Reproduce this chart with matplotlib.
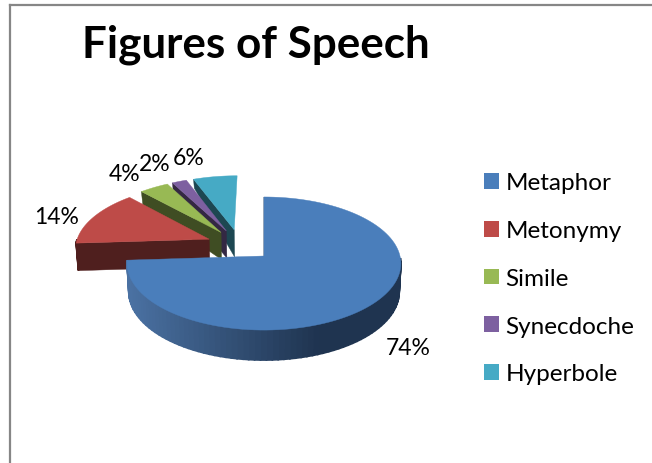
import numpy as np
import matplotlib
matplotlib.use('Agg')
import matplotlib.pyplot as plt
from matplotlib.patches import Patch

plt.rcParams['font.family'] = ['Lato', 'DejaVu Sans']

title = 'Figures of Speech'
categories = ['Metaphor', 'Metonymy', 'Simile', 'Synecdoche', 'Hyperbole']
values = [74, 14, 4, 2, 6]
pct_labels = ['74%', '14%', '4%', '2%', '6%']

colors = ['#4A7EBB', '#BE4B48', '#98B954', '#7D60A0', '#46AAC5']
dark_colors = ['#24405F', '#4F1F1E', '#3F4D23', '#342843', '#1D4752']
label_pos = [(408, 349), (57, 218), (125, 175), (155, 165), (189, 159)]

# projection of the tilted pie, in pixels
CX, CY = 264, 257
SX, SY = 136, 65.7
PERSP = 0.113
EXPLODE = 0.25


def project(X, Y):
	d = 1 + PERSP * Y
	return CX + SX * X / d, CY - SY * Y / d


def project_bottom(X, Y):
	# vertical edges converge, far points look much thinner
	x, y = project(X, Y)
	depth = np.interp(Y, [-1, 0.45, 1.4], [30, 27, 8])
	return CX + (x - CX) * 0.988, y + depth


def blend(c1, c2, t):
	a = np.array(matplotlib.colors.to_rgb(c1))
	b = np.array(matplotlib.colors.to_rgb(c2))
	return tuple(a + (b - a) * t)


fig = plt.figure(figsize=(6.52, 4.64), dpi=100)
ax = fig.add_axes([0, 0, 1, 1])
ax.set_xlim(0, 652)
ax.set_ylim(464, 0)
ax.axis('off')

# chart frame
ax.plot([10, 10], [464, 6], color='#868686', lw=1.6)
ax.plot([10, 652], [6, 6], color='#868686', lw=1.6)

# slices go clockwise from 12 o'clock, angles measured clockwise
edges = np.radians(np.concatenate([[0], np.cumsum(values)]) * 3.6)
mids = (edges[:-1] + edges[1:]) / 2
off_x = EXPLODE * (np.sin(mids) - np.sin(mids[0]))
off_y = EXPLODE * (np.cos(mids) - np.cos(mids[0]))

# far slices first so that the big one ends up in front
for i in [4, 3, 2, 1, 0]:
	t = np.linspace(edges[i], edges[i + 1], 120)
	X = off_x[i] + np.sin(t)
	Y = off_y[i] + np.cos(t)
	ax_, ay_ = off_x[i], off_y[i]

	# cut face on the starting edge
	top = [project(ax_, ay_), project(X[0], Y[0])]
	bot = [project_bottom(X[0], Y[0]), project_bottom(ax_, ay_)]
	face = np.array(top + bot)
	ax.fill(face[:, 0], face[:, 1], color=dark_colors[i], lw=0.3)

	# outer rim, only the part facing the viewer
	front = np.cos(t) <= 0
	tx, ty = project(X, Y)
	bx, by = project_bottom(X, Y)
	idx = np.where(front)[0]
	for j in idx[:-1]:
		if i == 0:
			s = np.clip((tx[j] - 130) / 190, 0, 1)
			col = blend('#4A71A2', '#1F3450', s)
		else:
			col = dark_colors[i]
		ax.fill([tx[j], tx[j + 1], bx[j + 1], bx[j]],
				[ty[j], ty[j + 1], by[j + 1], by[j]], color=col, lw=1.2)

	# top surface
	ax.fill(np.r_[project(ax_, ay_)[0], tx], np.r_[project(ax_, ay_)[1], ty], color=colors[i], lw=0.3)

for txt, (x, y) in zip(pct_labels, label_pos):
	ax.text(x, y, txt, fontsize=16.5, color='#000000', ha='center', va='center')

ax.text(256, 45, title, fontsize=31.7, fontweight='bold', color='#000000', ha='center', va='center')

handles = [Patch(facecolor=c, edgecolor='none') for c in colors]
fig.legend(handles, categories, loc='upper left', bbox_to_anchor=(484 / 652, 1 - 173.5 / 464),
		fontsize=17.5, frameon=False, handlelength=0.62, handleheight=0.62,
		handletextpad=0.26, labelspacing=1.1, borderpad=0, borderaxespad=0)

plt.savefig('out.png', dpi=100)
plt.close()
